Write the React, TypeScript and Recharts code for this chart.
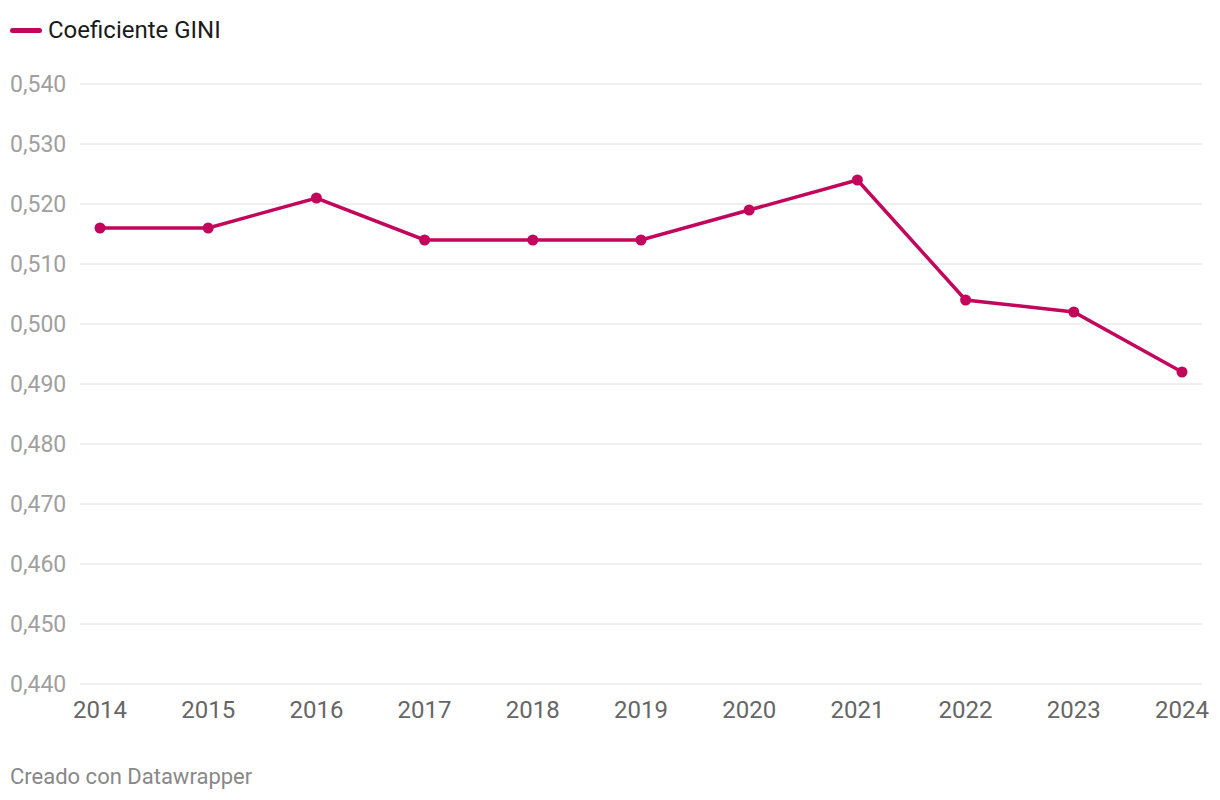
import { CartesianGrid, Line, LineChart, XAxis, YAxis } from "recharts";

const years = ["2014", "2015", "2016", "2017", "2018", "2019", "2020", "2021", "2022", "2023", "2024"];
const gini = [0.516, 0.516, 0.521, 0.514, 0.514, 0.514, 0.519, 0.524, 0.504, 0.502, 0.492];
const yTicks = [0.44, 0.45, 0.46, 0.47, 0.48, 0.49, 0.5, 0.51, 0.52, 0.53, 0.54];

const data = years.map((year, i) => ({ year, gini: gini[i] }));

const COLOR = "#c2065b";
const FONT = "Roboto, 'Noto Sans', sans-serif";

function YTick(props: any) {
  const { y, payload } = props;
  return (
    <text x={10} y={y} dy={8} textAnchor="start" fill="#a0a0a0" fontSize={23} fontFamily={FONT}>
      {payload.value.toFixed(3).replace(".", ",")}
    </text>
  );
}

function XTick(props: any) {
  const { x, payload } = props;
  return (
    <text x={x} y={718} textAnchor="middle" fill="#666" fontSize={24} fontFamily={FONT}>
      {payload.value}
    </text>
  );
}

export default function App() {
  return (
    <div style={{ position: "absolute", left: 0, top: 0, width: 1220, height: 800, background: "#fff", fontFamily: FONT }}>
      <div style={{ position: "absolute", left: 10, top: 16, display: "flex", alignItems: "center", fontSize: 24, color: "#1a1a1a" }}>
        <span style={{ display: "inline-block", width: 32, height: 5, borderRadius: 3, background: COLOR, marginRight: 6 }} />
        Coeficiente GINI
      </div>
      <LineChart width={1220} height={730} data={data} margin={{ top: 84, right: 18, bottom: 0, left: 0 }}>
        <CartesianGrid stroke="#e0e0e0" vertical={false} />
        <XAxis
          dataKey="year"
          axisLine={false}
          tickLine={false}
          padding={{ left: 20, right: 20 }}
          height={46}
          tick={<XTick />}
          interval={0}
        />
        <YAxis
          domain={[0.44, 0.54]}
          ticks={yTicks}
          axisLine={false}
          tickLine={false}
          width={80}
          tick={<YTick />}
          interval={0}
        />
        <Line
          type="linear"
          dataKey="gini"
          stroke={COLOR}
          strokeWidth={3.5}
          dot={{ r: 5.5, fill: COLOR, stroke: COLOR, strokeWidth: 0 }}
          activeDot={false}
          isAnimationActive={false}
        />
      </LineChart>
      <div style={{ position: "absolute", left: 10, top: 766, fontSize: 22, lineHeight: 1, color: "#888" }}>Creado con Datawrapper</div>
    </div>
  );
}
